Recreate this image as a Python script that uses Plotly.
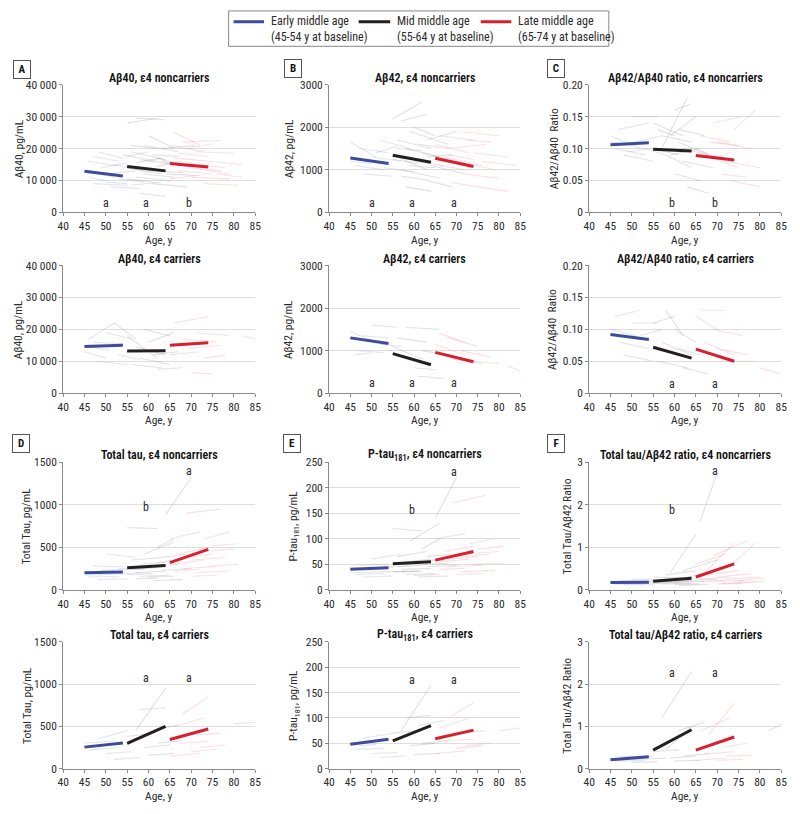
import plotly.graph_objects as go

# ---------------- data ----------------
ages_ticks = [40, 45, 50, 55, 60, 65, 70, 75, 80, 85]

# y-axis specs
ab40_ticks = [0, 10000, 20000, 30000, 40000]
ab40_text = ["0", "10 000", "20 000", "30 000", "40 000"]
ab42_ticks = [0, 1000, 2000, 3000]
ab42_text = ["0", "1000", "2000", "3000"]
ratio_ticks = [0, 0.05, 0.10, 0.15, 0.20]
ratio_text = ["0", "0.05", "0.10", "0.15", "0.20"]
tau_ticks = [0, 500, 1000, 1500]
tau_text = ["0", "500", "1000", "1500"]
ptau_ticks = [0, 50, 100, 150, 200, 250]
ptau_text = ["0", "50", "100", "150", "200", "250"]
tauab_ticks = [0, 1, 2, 3]
tauab_text = ["0", "1", "2", "3"]

# group mean trajectories: (age0, age1, value0, value1) for early, mid, late
ab40_nc_means = [(45, 54, 12900, 11400), (55, 64, 14400, 13000), (65, 74, 15300, 14200)]
ab40_c_means = [(45, 54, 14600, 15000), (55, 64, 13200, 13300), (65, 74, 15000, 15800)]
ab42_nc_means = [(45, 54, 1280, 1150), (55, 64, 1340, 1180), (65, 74, 1270, 1080)]
ab42_c_means = [(45, 54, 1300, 1170), (55, 64, 930, 670), (65, 74, 960, 740)]
ratio_nc_means = [(45, 54, 0.106, 0.109), (55, 64, 0.099, 0.096), (65, 74, 0.089, 0.082)]
ratio_c_means = [(45, 54, 0.092, 0.084), (55, 64, 0.072, 0.055), (65, 74, 0.069, 0.050)]
tau_nc_means = [(45, 54, 200, 210), (55, 64, 260, 285), (65, 74, 320, 475)]
tau_c_means = [(45, 54, 255, 305), (55, 64, 300, 500), (65, 74, 345, 470)]
ptau_nc_means = [(45, 54, 40, 43), (55, 64, 51, 55), (65, 74, 58, 75)]
ptau_c_means = [(45, 54, 48, 58), (55, 64, 55, 85), (65, 74, 59, 76)]
tauab_nc_means = [(45, 54, 0.17, 0.18), (55, 64, 0.20, 0.27), (65, 74, 0.30, 0.61)]
tauab_c_means = [(45, 54, 0.21, 0.28), (55, 64, 0.44, 0.92), (65, 74, 0.44, 0.75)]

# individual trajectories (age0, age1, value0, value1)
ab40_nc_early = [(45, 52, 13000, 11000), (46, 53, 16000, 14500), (47, 55, 9000, 8500), (48, 54, 19000, 17000),
                 (50, 57, 12000, 13000), (51, 58, 8000, 7500), (52, 60, 15000, 12500), (53, 59, 10500, 9500),
                 (49, 55, 14000, 15500), (54, 62, 18000, 16000), (46, 50, 11000, 10000),
                 (47, 53, 17500, 16000), (50, 55, 9500, 9000)]
ab40_nc_mid = [(55, 62, 28000, 29500), (57, 64, 29500, 29000), (55, 63, 14000, 12000), (56, 64, 19000, 16500),
               (57, 65, 11000, 10000), (58, 66, 16500, 15000), (59, 67, 21000, 19000), (60, 68, 13000, 12500),
               (61, 69, 9000, 8000), (62, 70, 17000, 14000), (63, 71, 20000, 21000), (64, 72, 12000, 11500),
               (56, 63, 8500, 9500), (60, 66, 24000, 20000), (58, 64, 6000, 5000), (62, 68, 14500, 16000),
               (55, 60, 17500, 19000), (55, 61, 10500, 9500), (57, 63, 15500, 17000), (59, 66, 12000, 11000),
               (61, 67, 18000, 17500), (63, 69, 16000, 14500), (56, 62, 21000, 20000)]
ab40_nc_late = [(65, 73, 21000, 19000), (66, 74, 17000, 16000), (67, 75, 13000, 12000), (68, 77, 22000, 22500),
                (69, 78, 15500, 14000), (70, 79, 11000, 10500), (71, 80, 19000, 18500), (72, 79, 13500, 12000),
                (73, 81, 9000, 8500), (66, 72, 25000, 21000), (74, 82, 16000, 15000), (65, 71, 10500, 11500),
                (67, 74, 18500, 17500), (69, 75, 20000, 21500), (70, 77, 14000, 13000), (76, 82, 12000, 11000)]

ab40_c_early = [(46, 52, 17000, 22000), (52, 57, 22000, 17000), (45, 50, 13000, 11000), (47, 54, 16000, 15500),
                (48, 55, 10000, 9000), (50, 56, 19000, 17000), (53, 58, 12000, 10500), (46, 51, 14500, 13500)]
ab40_c_mid = [(55, 62, 18000, 11000), (56, 63, 9000, 8000), (57, 64, 14500, 12000), (58, 65, 11000, 9000),
              (60, 66, 16000, 19000), (61, 67, 12000, 13000), (59, 65, 20000, 18000), (62, 68, 7500, 8000)]
ab40_c_late = [(65, 72, 12000, 13000), (66, 74, 22000, 24000), (68, 76, 17000, 16000), (69, 77, 14000, 15000),
               (70, 75, 6500, 6000), (71, 79, 19000, 18000), (73, 78, 11000, 12000), (82, 85, 18000, 17000)]

ab42_nc_early = [(45, 51, 1650, 1300), (46, 53, 1100, 1000), (47, 54, 1500, 1400), (48, 55, 900, 850),
                 (50, 57, 1300, 1200), (52, 59, 1700, 1500), (53, 60, 1050, 950), (51, 56, 1400, 1550),
                 (45, 50, 1200, 1150), (49, 55, 1250, 1100)]
ab42_nc_mid = [(55, 62, 2200, 2600), (57, 63, 2150, 2300), (55, 63, 1350, 1000), (56, 64, 1700, 1500),
               (57, 66, 1000, 800), (58, 66, 1500, 1300), (59, 68, 1900, 1600), (60, 67, 1200, 1100),
               (61, 69, 800, 600), (62, 70, 1400, 1200), (63, 70, 1700, 1900), (58, 64, 600, 500),
               (60, 65, 2000, 1800), (64, 72, 1100, 900), (55, 61, 1250, 1150), (56, 62, 1500, 1450),
               (59, 65, 1100, 1050), (61, 68, 1600, 1500), (63, 69, 1300, 1350), (57, 61, 850, 800)]
ab42_nc_late = [(65, 73, 1600, 1400), (66, 74, 1800, 1700), (67, 76, 1300, 1100), (68, 77, 1500, 1600),
                (70, 79, 1200, 1000), (71, 80, 1900, 1800), (72, 80, 900, 800), (74, 82, 1400, 1300),
                (69, 75, 700, 600), (75, 82, 600, 500), (66, 72, 1100, 1000), (68, 74, 1350, 1250),
                (72, 78, 1700, 1650), (76, 84, 1200, 1100)]

ab42_c_early = [(45, 51, 1450, 1200), (47, 53, 1000, 950), (48, 54, 1350, 1300), (50, 56, 1600, 1550),
                (52, 57, 1150, 1100), (46, 50, 900, 950)]
ab42_c_mid = [(55, 62, 1100, 800), (56, 63, 1300, 1200), (57, 64, 900, 700), (58, 66, 1550, 1500),
              (60, 65, 600, 550), (61, 67, 400, 350), (62, 68, 1000, 900)]
ab42_c_late = [(65, 72, 1150, 900), (66, 72, 1400, 1200), (68, 75, 1300, 1100), (69, 76, 800, 700),
               (71, 78, 1000, 850), (73, 80, 750, 700), (82, 85, 650, 520)]

ratio_nc_early = [(45, 52, 0.12, 0.10), (46, 53, 0.10, 0.09), (47, 54, 0.13, 0.14), (48, 55, 0.09, 0.08),
                  (50, 56, 0.15, 0.15), (51, 57, 0.11, 0.12), (53, 58, 0.10, 0.09),
                  (45, 50, 0.11, 0.105), (49, 55, 0.095, 0.10)]
ratio_nc_mid = [(55, 62, 0.14, 0.12), (57, 63, 0.10, 0.18), (58, 64, 0.09, 0.07), (59, 65, 0.12, 0.15),
                (60, 66, 0.06, 0.05), (61, 68, 0.11, 0.09), (62, 69, 0.08, 0.07), (63, 68, 0.04, 0.03),
                (56, 60, 0.13, 0.12), (60, 64, 0.16, 0.17), (55, 61, 0.10, 0.09), (57, 64, 0.12, 0.11),
                (59, 66, 0.09, 0.10), (61, 67, 0.13, 0.12), (62, 68, 0.10, 0.09)]
ratio_nc_late = [(65, 72, 0.10, 0.08), (66, 73, 0.12, 0.11), (67, 75, 0.09, 0.07), (69, 76, 0.14, 0.15),
                 (70, 78, 0.11, 0.10), (72, 80, 0.08, 0.07), (73, 80, 0.05, 0.04), (74, 79, 0.13, 0.16),
                 (66, 72, 0.09, 0.085), (68, 75, 0.11, 0.105), (71, 77, 0.06, 0.055)]

ratio_c_early = [(45, 51, 0.10, 0.09), (46, 52, 0.12, 0.13), (47, 54, 0.08, 0.07), (48, 55, 0.06, 0.05),
                 (50, 56, 0.11, 0.11), (52, 57, 0.09, 0.10)]
ratio_c_mid = [(55, 60, 0.11, 0.12), (58, 62, 0.13, 0.09), (57, 64, 0.08, 0.06), (56, 63, 0.05, 0.04),
               (60, 65, 0.10, 0.08), (62, 68, 0.04, 0.03), (61, 66, 0.07, 0.06)]
ratio_c_late = [(65, 70, 0.12, 0.10), (66, 72, 0.13, 0.13), (67, 74, 0.08, 0.06), (69, 76, 0.10, 0.09),
                (70, 77, 0.07, 0.06), (72, 79, 0.05, 0.05), (80, 85, 0.04, 0.03)]

tau_nc_early = [(45, 52, 210, 220), (46, 53, 150, 160), (47, 54, 280, 270), (48, 55, 120, 130),
                (50, 57, 420, 380), (51, 58, 180, 200), (53, 59, 250, 240), (45, 51, 170, 180), (49, 55, 230, 240)]
tau_nc_mid = [(55, 62, 730, 720), (56, 63, 350, 380), (57, 64, 200, 220), (58, 65, 160, 170),
              (59, 66, 420, 560), (60, 67, 270, 300), (61, 68, 110, 120), (62, 66, 500, 600),
              (63, 70, 230, 250), (64, 70, 880, 1320), (62, 68, 320, 360), (57, 62, 130, 140),
              (55, 61, 180, 190), (56, 62, 240, 260), (58, 64, 300, 320), (60, 66, 150, 160), (63, 69, 380, 420)]
tau_nc_late = [(65, 72, 600, 680), (66, 73, 300, 350), (67, 74, 420, 500), (68, 76, 250, 270),
               (69, 77, 900, 950), (70, 78, 350, 380), (71, 79, 200, 220), (72, 80, 450, 480),
               (73, 79, 600, 680), (74, 81, 280, 300), (66, 72, 220, 240), (68, 75, 380, 420),
               (70, 76, 160, 170), (75, 81, 520, 540)]

tau_c_early = [(45, 52, 300, 330), (46, 53, 220, 250), (48, 55, 350, 450), (50, 56, 180, 200),
               (52, 58, 110, 130), (47, 51, 260, 280)]
tau_c_mid = [(55, 61, 380, 420), (57, 64, 450, 950), (58, 64, 700, 720), (59, 65, 250, 280),
             (60, 66, 160, 180), (61, 67, 450, 520), (62, 68, 300, 330)]
tau_c_late = [(65, 72, 150, 180), (66, 73, 500, 600), (67, 74, 300, 320), (68, 74, 650, 850),
              (70, 76, 200, 230), (71, 77, 400, 420), (72, 78, 250, 280), (80, 85, 530, 550)]

ptau_nc_early = [(45, 52, 40, 42), (46, 53, 30, 32), (47, 54, 48, 50), (48, 55, 25, 27),
                 (50, 57, 60, 70), (51, 58, 35, 36), (53, 59, 45, 47), (45, 51, 33, 35), (49, 55, 42, 44)]
ptau_nc_mid = [(55, 62, 120, 115), (56, 63, 65, 75), (57, 64, 40, 42), (58, 65, 30, 32),
               (59, 66, 95, 130), (60, 67, 55, 58), (61, 68, 25, 27), (62, 66, 80, 100),
               (63, 70, 45, 48), (65, 70, 140, 220), (62, 68, 50, 52), (57, 62, 35, 36),
               (55, 61, 35, 37), (56, 62, 45, 48), (58, 64, 55, 60), (60, 66, 28, 30), (63, 69, 65, 70)]
ptau_nc_late = [(65, 72, 100, 110), (66, 73, 55, 60), (67, 74, 75, 85), (68, 76, 45, 48),
                (69, 77, 170, 185), (70, 78, 65, 70), (71, 79, 35, 38), (72, 80, 70, 75),
                (73, 79, 90, 100), (74, 81, 50, 52), (66, 72, 40, 42), (68, 75, 60, 65),
                (70, 76, 30, 32), (75, 81, 80, 85)]

ptau_c_early = [(45, 52, 50, 55), (46, 53, 38, 40), (48, 55, 60, 70), (50, 56, 30, 32),
                (52, 58, 22, 25), (47, 51, 45, 48)]
ptau_c_mid = [(55, 61, 70, 75), (57, 64, 75, 165), (58, 64, 100, 105), (59, 65, 45, 50),
              (60, 66, 28, 30), (61, 67, 85, 95), (62, 68, 50, 55)]
ptau_c_late = [(65, 72, 30, 35), (66, 73, 80, 100), (67, 74, 55, 58), (68, 74, 100, 130),
               (70, 76, 40, 45), (71, 77, 70, 75), (72, 78, 45, 50), (80, 85, 75, 80)]

tauab_nc_early = [(45, 52, 0.17, 0.18), (46, 53, 0.13, 0.14), (47, 54, 0.22, 0.21), (48, 55, 0.12, 0.12),
                  (50, 57, 0.25, 0.24), (51, 58, 0.15, 0.16), (53, 59, 0.19, 0.20),
                  (45, 51, 0.15, 0.16), (49, 55, 0.19, 0.20)]
tauab_nc_mid = [(55, 62, 0.30, 0.28), (56, 63, 0.20, 0.22), (57, 64, 0.14, 0.15), (58, 65, 0.35, 0.45),
                (59, 65, 0.40, 1.30), (60, 67, 0.18, 0.20), (61, 68, 0.11, 0.12), (62, 70, 0.45, 0.70),
                (63, 70, 0.22, 0.25), (66, 70, 1.6, 2.75), (55, 61, 0.16, 0.17), (56, 62, 0.24, 0.26),
                (58, 64, 0.18, 0.20), (60, 66, 0.13, 0.14), (63, 69, 0.30, 0.40)]
tauab_nc_late = [(65, 72, 0.60, 0.85), (66, 73, 0.25, 0.30), (67, 74, 0.40, 1.10), (68, 76, 0.20, 0.22),
                 (69, 77, 0.80, 1.15), (70, 78, 0.30, 0.38), (71, 79, 0.15, 0.17), (72, 80, 0.25, 0.30),
                 (73, 79, 0.55, 1.10), (74, 81, 0.18, 0.20), (66, 72, 0.20, 0.22), (68, 75, 0.35, 0.45),
                 (70, 76, 0.14, 0.15), (75, 81, 0.22, 0.28)]

tauab_c_early = [(45, 52, 0.20, 0.22), (46, 53, 0.18, 0.19), (48, 55, 0.25, 0.30), (50, 56, 0.15, 0.16),
                 (52, 58, 0.22, 0.25), (47, 51, 0.30, 0.28)]
tauab_c_mid = [(55, 61, 0.40, 0.45), (57, 64, 1.2, 2.3), (58, 64, 0.45, 1.0), (59, 65, 0.25, 0.30),
               (60, 66, 0.18, 0.20), (61, 67, 0.90, 1.10), (62, 68, 0.30, 0.35)]
tauab_c_late = [(65, 72, 0.20, 0.25), (66, 73, 0.90, 1.20), (67, 74, 0.35, 0.40), (68, 74, 0.80, 1.55),
                (70, 76, 0.20, 0.22), (71, 77, 0.50, 0.60), (72, 78, 0.30, 0.32), (82, 85, 0.90, 1.05)]

# significance markers (age, value, letter)
ab40_nc_sig = [(50, 3000, "a"), (59.5, 3000, "a"), (69.5, 3000, "b")]
ab40_c_sig = []
ab42_nc_sig = [(50, 220, "a"), (59.5, 220, "a"), (69.5, 220, "a")]
ab42_c_sig = [(50, 230, "a"), (59.5, 230, "a"), (69.5, 230, "a")]
ratio_nc_sig = [(59.5, 0.015, "b"), (69.5, 0.015, "b")]
ratio_c_sig = [(59.5, 0.015, "a"), (69.5, 0.015, "a")]
tau_nc_sig = [(59.5, 970, "b"), (69.5, 1390, "a")]
tau_c_sig = [(59.5, 1070, "a"), (69.5, 1070, "a")]
ptau_nc_sig = [(59.5, 156, "b"), (69.5, 231, "a")]
ptau_c_sig = [(59.5, 174, "a"), (69.5, 174, "a")]
tauab_nc_sig = [(59.5, 1.87, "b"), (69.5, 2.80, "a")]
tauab_c_sig = [(59.5, 2.26, "a"), (69.5, 2.26, "a")]

panel_titles = ["Aβ40, ε4 noncarriers", "Aβ42, ε4 noncarriers", "Aβ42/Aβ40 ratio, ε4 noncarriers",
                "Aβ40, ε4 carriers", "Aβ42, ε4 carriers", "Aβ42/Aβ40 ratio, ε4 carriers",
                "Total tau, ε4 noncarriers", "P-tau<sub>181</sub>, ε4 noncarriers", "Total tau/Aβ42 ratio, ε4 noncarriers",
                "Total tau, ε4 carriers", "P-tau<sub>181</sub>, ε4 carriers", "Total tau/Aβ42 ratio, ε4 carriers"]
y_titles = ["Aβ40, pg/mL", "Aβ42, pg/mL", "Aβ42/Aβ40  Ratio"] * 2 + \
           ["Total Tau, pg/mL", "P-tau<sub>181</sub>, pg/mL", "Total Tau/Aβ42 Ratio"] * 2
panel_letters = ["A", "B", "C", "D", "E", "F"]
legend_names = ["Early middle age", "Mid middle age", "Late middle age"]
legend_sub = ["(45-54 y at baseline)", "(55-64 y at baseline)", "(65-74 y at baseline)"]

# ---------------- layout / styling ----------------
W, H = 800, 814
FONT = "Liberation Sans Narrow, Roboto Condensed, Roboto, sans-serif"
TXT = "#2b2b2b"
AXC = "#8a8a8a"
MEAN_COLORS = ["#3d4c9a", "#231f20", "#d71f30"]
BG_COLORS = ["rgba(150,160,205,0.28)", "rgba(140,140,140,0.26)", "rgba(240,140,155,0.28)"]

def px(x):
    return x / W

def py(y):
    return 1 - y / H

col_px = [(58, 253), (328, 522), (592, 787)]
row_px = [(79, 209), (263, 393), (463, 593), (646, 775)]
xtitle_y = [237, 420, 621, 803]
ytitle_x = [[13, 287, 556], [13, 287, 555], [20, 292, 569], [22, 292, 570]]

panel_data = [
    (ab40_nc_means, [ab40_nc_early, ab40_nc_mid, ab40_nc_late], ab40_nc_sig, ab40_ticks, ab40_text),
    (ab42_nc_means, [ab42_nc_early, ab42_nc_mid, ab42_nc_late], ab42_nc_sig, ab42_ticks, ab42_text),
    (ratio_nc_means, [ratio_nc_early, ratio_nc_mid, ratio_nc_late], ratio_nc_sig, ratio_ticks, ratio_text),
    (ab40_c_means, [ab40_c_early, ab40_c_mid, ab40_c_late], ab40_c_sig, ab40_ticks, ab40_text),
    (ab42_c_means, [ab42_c_early, ab42_c_mid, ab42_c_late], ab42_c_sig, ab42_ticks, ab42_text),
    (ratio_c_means, [ratio_c_early, ratio_c_mid, ratio_c_late], ratio_c_sig, ratio_ticks, ratio_text),
    (tau_nc_means, [tau_nc_early, tau_nc_mid, tau_nc_late], tau_nc_sig, tau_ticks, tau_text),
    (ptau_nc_means, [ptau_nc_early, ptau_nc_mid, ptau_nc_late], ptau_nc_sig, ptau_ticks, ptau_text),
    (tauab_nc_means, [tauab_nc_early, tauab_nc_mid, tauab_nc_late], tauab_nc_sig, tauab_ticks, tauab_text),
    (tau_c_means, [tau_c_early, tau_c_mid, tau_c_late], tau_c_sig, tau_ticks, tau_text),
    (ptau_c_means, [ptau_c_early, ptau_c_mid, ptau_c_late], ptau_c_sig, ptau_ticks, ptau_text),
    (tauab_c_means, [tauab_c_early, tauab_c_mid, tauab_c_late], tauab_c_sig, tauab_ticks, tauab_text),
]

fig = go.Figure()
annotations = []
shapes = []
layout_axes = {}

for i, (means, bgs, sig, yt, ytt) in enumerate(panel_data):
    r, c = divmod(i, 3)
    n = i + 1
    xa, ya = f"x{n}", f"y{n}"
    x0, x1 = col_px[c]
    y0, y1 = row_px[r]
    # background individual trajectories
    for g, segs in enumerate(bgs):
        xs, ys = [], []
        for a0, a1, v0, v1 in segs:
            xs += [a0, a1, None]
            ys += [v0, v1, None]
        fig.add_trace(go.Scatter(x=xs, y=ys, mode="lines", xaxis=xa, yaxis=ya,
                                 line=dict(color=BG_COLORS[g], width=1.1),
                                 hoverinfo="skip", showlegend=False))
    # mean trajectories
    for g, (a0, a1, v0, v1) in enumerate(means):
        fig.add_trace(go.Scatter(x=[a0, a1], y=[v0, v1], mode="lines", xaxis=xa, yaxis=ya,
                                 line=dict(color=MEAN_COLORS[g], width=3),
                                 name=legend_names[g], showlegend=False))
    layout_axes[f"xaxis{n}"] = dict(domain=[px(x0), px(x1)], anchor=ya, range=[40, 85],
                                    tickvals=ages_ticks, showgrid=False, zeroline=False,
                                    showline=True, linecolor=AXC, linewidth=1,
                                    ticks="outside", ticklen=3, tickcolor=AXC,
                                    tickfont=dict(size=11.5, color=TXT), fixedrange=True)
    layout_axes[f"yaxis{n}"] = dict(domain=[py(y1), py(y0)], anchor=xa, range=[0, yt[-1]],
                                    tickvals=yt, ticktext=ytt, showgrid=True, gridcolor="#dedede",
                                    gridwidth=1, zeroline=False, showline=True, linecolor=AXC,
                                    linewidth=1, ticks="outside", ticklen=3, tickcolor=AXC,
                                    tickfont=dict(size=11.5, color=TXT), fixedrange=True)
    # panel title
    annotations.append(dict(x=px((x0 + x1) / 2), y=py(y0 - 7), xref="paper", yref="paper",
                            text=panel_titles[i], showarrow=False, xanchor="center", yanchor="middle",
                            font=dict(size=12, color="#111", weight=600)))
    # y title
    annotations.append(dict(x=px(ytitle_x[r][c]), y=py((y0 + y1) / 2), xref="paper", yref="paper",
                            text=y_titles[i], showarrow=False, textangle=-90,
                            xanchor="center", yanchor="middle", font=dict(size=11.5, color=TXT)))
    # x title
    annotations.append(dict(x=px((x0 + x1) / 2), y=py(xtitle_y[r]), xref="paper", yref="paper",
                            text="Age, y", showarrow=False, xanchor="center", yanchor="middle",
                            font=dict(size=11.5, color=TXT)))
    # significance letters
    for a, v, t in sig:
        annotations.append(dict(x=a, y=v, xref=xa, yref=ya, text=t, showarrow=False,
                                xanchor="center", yanchor="middle", font=dict(size=12, color=TXT)))

# panel letters in boxes
letter_pos = [(16, 64), (291, 63), (558, 63), (15, 444), (290, 444), (558, 444)]
for L, (lx, ly) in zip(panel_letters, letter_pos):
    annotations.append(dict(x=px(lx), y=py(ly), xref="paper", yref="paper", text=f"<b>{L}</b>",
                            showarrow=False, xanchor="center", yanchor="middle",
                            bordercolor="#555", borderwidth=1, borderpad=2, width=12,
                            font=dict(size=11, color="#111")))

# legend box
shapes.append(dict(type="rect", xref="paper", yref="paper", x0=px(226), x1=px(612), y0=py(40), y1=py(4),
                   line=dict(color="#888", width=1), fillcolor="white"))
leg_line_x = [(231, 262), (358, 390), (482, 513)]
for g, (lx0, lx1) in enumerate(leg_line_x):
    shapes.append(dict(type="line", xref="paper", yref="paper", x0=px(lx0), x1=px(lx1), y0=py(15), y1=py(15),
                       line=dict(color=MEAN_COLORS[g], width=3)))
    annotations.append(dict(x=px(lx1 + 5), y=py(22), xref="paper", yref="paper",
                            text=f"{legend_names[g]}<br>{legend_sub[g]}", showarrow=False,
                            xanchor="left", yanchor="middle", align="left",
                            font=dict(size=12, color=TXT)))

fig.update_layout(width=W, height=H, margin=dict(l=0, r=0, t=0, b=0),
                  plot_bgcolor="white", paper_bgcolor="white", showlegend=False,
                  font=dict(family=FONT, size=12, color=TXT),
                  annotations=annotations, shapes=shapes, **layout_axes)

fig.write_html("out.html", config={"displayModeBar": False},
               post_script="document.body.style.margin='0px';document.body.style.padding='0px';")
